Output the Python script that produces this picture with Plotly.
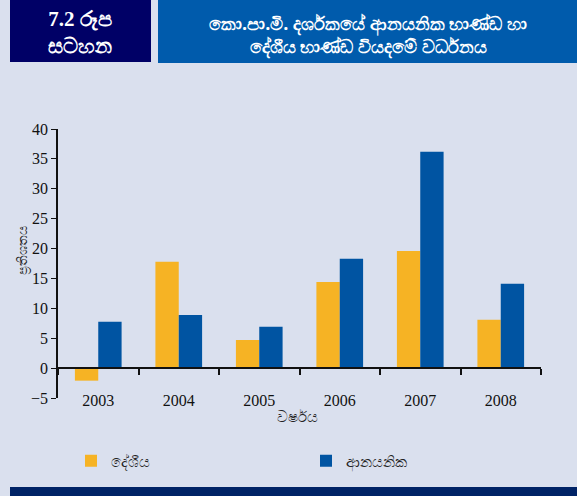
import plotly.graph_objects as go

years = ["2003", "2004", "2005", "2006", "2007", "2008"]
domestic = [-2.1, 17.8, 4.7, 14.4, 19.6, 8.1]
imported = [7.75, 8.9, 6.9, 18.3, 36.2, 14.1]
y_ticks = [-5, 0, 5, 10, 15, 20, 25, 30, 35, 40]

BG = "#DAE0EE"
YEL = "#F6B324"
BLU = "#0054A2"
SERIF = "Liberation Serif, Times New Roman, serif"

W, H = 577, 496
ml, mr, mt, mb = 58, 36, 129, 98
ymin, ymax = -5, 40
PW, PH = W - ml - mr, H - mt - mb


def px_x(px):
    return (px - ml) / PW


def px_y(py):
    return (H - mb - py) / PH


fig = go.Figure()
fig.add_trace(go.Bar(x=years, y=domestic, name="දේශීය", marker_color=YEL,
                     marker_line_width=0))
fig.add_trace(go.Bar(x=years, y=imported, name="ආනයනික", marker_color=BLU,
                     marker_line_width=0))

zero_pos = (0 - ymin) / (ymax - ymin)

fig.update_layout(
    width=W, height=H,
    margin=dict(l=ml, r=mr, t=mt, b=mb),
    paper_bgcolor=BG, plot_bgcolor=BG,
    barmode="group", bargap=0.42, bargroupgap=0,
    showlegend=True,
    legend=dict(orientation="h", x=px_x(71), xanchor="left",
                y=px_y(461), yanchor="middle",
                entrywidth=190, entrywidthmode="pixels",
                font=dict(size=15, color="#222"),
                bgcolor="rgba(0,0,0,0)"),
    xaxis=dict(type="category", categoryorder="array", categoryarray=years,
               range=[-0.5, 5.5], anchor="free", position=zero_pos,
               showline=True, linecolor="#111", linewidth=2,
               ticks="outside", tickson="boundaries", ticklen=6, tickcolor="#111", tickwidth=2,
               ticklabelstandoff=18,
               tickfont=dict(family=SERIF, size=16, color="#111"),
               showgrid=False, zeroline=False),
    yaxis=dict(range=[ymin, ymax], tickvals=y_ticks, showline=True, linecolor="#111",
               linewidth=1.5, ticks="outside", ticklen=5, tickcolor="#111",
               tickfont=dict(family=SERIF, size=16, color="#111"),
               showgrid=False, zeroline=True, zerolinecolor="#111", zerolinewidth=2),
)

# y-axis title
fig.add_annotation(text="ප්‍රතිශතය", xref="paper", yref="paper",
                   x=px_x(22), y=px_y(251),
                   textangle=-90, showarrow=False, xanchor="center", yanchor="middle",
                   font=dict(size=13, color="#222"))
# x-axis title
fig.add_annotation(text="වර්ෂය", xref="paper", yref="paper",
                   x=px_x(297), y=px_y(416),
                   showarrow=False, xanchor="center", yanchor="middle",
                   font=dict(size=15, color="#222"))

# header boxes and bottom band
fig.add_shape(type="rect", xref="paper", yref="paper",
              x0=px_x(10), x1=px_x(151), y0=px_y(62), y1=px_y(0),
              fillcolor="#000066", line_width=0, layer="above")
fig.add_shape(type="rect", xref="paper", yref="paper",
              x0=px_x(158), x1=px_x(W), y0=px_y(63), y1=px_y(0),
              fillcolor="#005BAC", line_width=0, layer="above")
fig.add_shape(type="rect", xref="paper", yref="paper",
              x0=px_x(10), x1=px_x(W), y0=px_y(H), y1=px_y(487),
              fillcolor="#002366", line_width=0, layer="above")

fig.add_annotation(text="<b>7.2 රූප</b><br><b>සටහන</b>", xref="paper", yref="paper",
                   x=px_x(80), y=px_y(33),
                   showarrow=False, xanchor="center", yanchor="middle",
                   font=dict(size=21, color="white", family=SERIF), align="center")
fig.add_annotation(text="<b>කො.පා.මි. දර්ශකයේ ආනයනික භාණ්ඩ හා</b><br><b>දේශීය භාණ්ඩ වියදමේ වර්ධනය</b>",
                   xref="paper", yref="paper",
                   x=px_x(368), y=px_y(35),
                   showarrow=False, xanchor="center", yanchor="middle",
                   font=dict(size=18, color="white"), align="center")

fig.write_html("out.html", config={"displayModeBar": False},
               post_script="document.body.style.margin='0px';document.body.style.overflow='hidden';")
